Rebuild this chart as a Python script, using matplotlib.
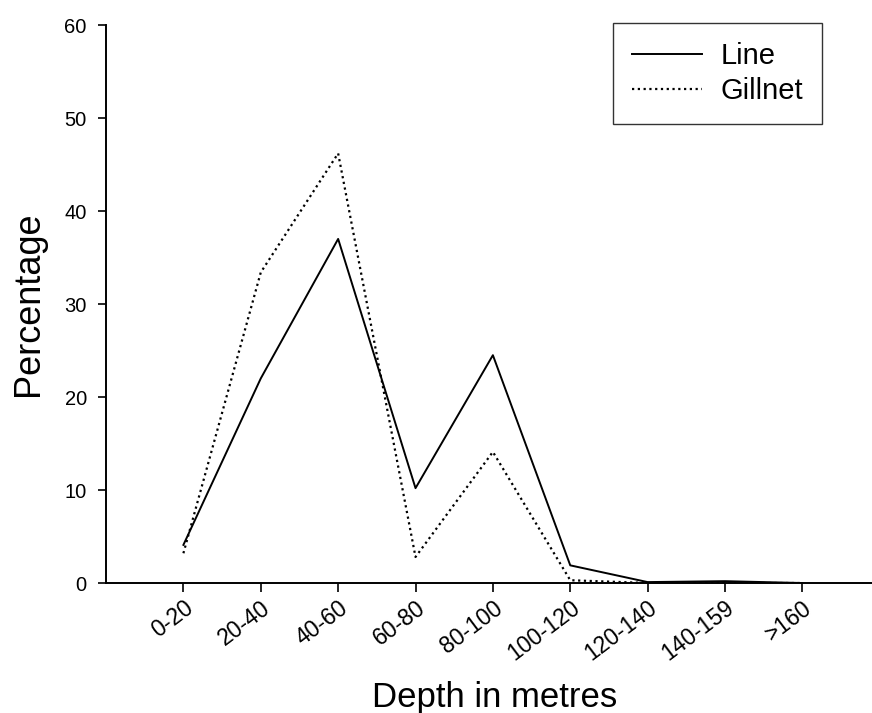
import matplotlib.pyplot as plt

plt.rcParams['font.family'] = ['Liberation Sans', 'DejaVu Sans']

# depth classes and percentages
depths = ['0-20', '20-40', '40-60', '60-80', '80-100', '100-120', '120-140', '140-159', '>160']
line_pct = [4.1, 22.0, 37.0, 10.2, 24.5, 1.9, 0.1, 0.2, 0.0]
gillnet_pct = [3.2, 33.4, 46.2, 2.8, 14.1, 0.3, 0.0, 0.0, 0.0]

fig = plt.figure(figsize=(8.72, 7.13), dpi=100)
ax = fig.add_axes([0.1216, 0.1823, 0.8784, 0.7826])

x = list(range(len(depths)))
ax.plot(x, line_pct, color='black', linewidth=1.4, label='Line')
ax.plot(x, gillnet_pct, color='black', linewidth=1.6, linestyle=(0, (1, 1.6)), label='Gillnet')

ax.set_xlim(-1, 8.9)
ax.set_ylim(0, 60)
ax.set_yticks(range(0, 61, 10))
ax.set_xticks(x)
ax.set_xticklabels(depths, rotation=37, ha='right', va='top', rotation_mode='anchor')

ax.spines['top'].set_visible(False)
ax.spines['right'].set_visible(False)
ax.spines['left'].set_linewidth(1.4)
ax.spines['bottom'].set_linewidth(1.4)
ax.tick_params(axis='x', direction='out', length=6.5, width=1.2, labelsize=16.5, pad=3)
ax.tick_params(axis='y', direction='out', length=5.8, width=1.2, labelsize=14.5, pad=8)

ax.set_ylabel('Percentage', fontsize=26, va='center')
ax.yaxis.set_label_coords(-0.101, 0.5)
ax.set_xlabel('Depth in metres', fontsize=25, va='baseline')
ax.xaxis.set_label_coords(0.507, -0.222)

leg = ax.legend(loc='upper right', bbox_to_anchor=(0.935, 1.004), fontsize=21,
                frameon=True, fancybox=False, edgecolor='black', handlelength=2.4,
                handletextpad=0.65, borderpad=0.65, labelspacing=0.25, borderaxespad=0)
leg.get_frame().set_linewidth(1.0)

fig.savefig('out.png', dpi=100)
